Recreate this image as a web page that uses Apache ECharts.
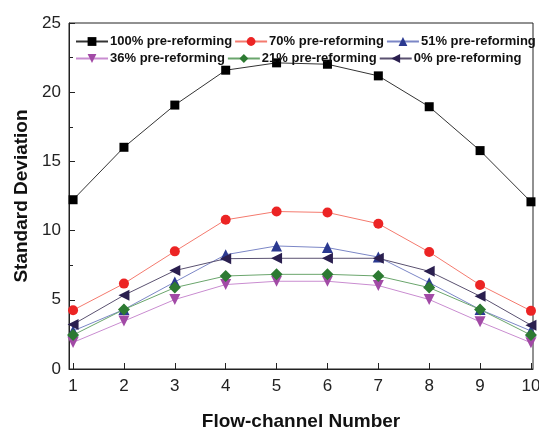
<!DOCTYPE html>
<html><head><meta charset="utf-8">
<script src="https://cdn.jsdelivr.net/npm/echarts@6/dist/echarts.min.js"></script>
<style>html,body{margin:0;padding:0;background:#fff}#c{width:539px;height:428px}</style>
</head><body><div id="c"></div>
<script>
const channels = [1,2,3,4,5,6,7,8,9,10];
const xTicks = [1,2,3,4,5,6,7,8,9,10];
const yTicks = [0,5,10,15,20,25];
const s100 = [12.23,16.02,19.07,21.59,22.12,22.02,21.18,18.95,15.78,12.08];
const s70  = [4.25,6.17,8.5,10.78,11.38,11.31,10.5,8.45,6.07,4.2];
const s51  = [2.75,4.3,6.29,8.26,8.89,8.77,8.09,6.24,4.3,2.75];
const s36  = [1.92,3.46,5.02,6.1,6.34,6.34,6.03,5.02,3.41,1.9];
const s21  = [2.45,4.3,5.88,6.72,6.84,6.84,6.72,5.88,4.3,2.45];
const s0   = [3.22,5.33,7.11,7.97,8.0,8.0,8.0,7.06,5.26,3.17];
const names = ['100% pre-reforming','70% pre-reforming','51% pre-reforming','36% pre-reforming','21% pre-reforming','0% pre-reforming'];

function mk(name, vals, sym, size, mcol, lcol, rot){
  return {
    name: name, type:'line', data: channels.map((c,i)=>[c, vals[i]]),
    symbol: sym, symbolSize: size, symbolRotate: rot||0,
    itemStyle:{color:mcol}, lineStyle:{color:lcol, width:1},
    emphasis:{disabled:true}, animation:false
  };
}
const font = 'Liberation Sans, Arial, sans-serif';
const legendCommon = {
  orient:'horizontal', itemWidth:32, itemHeight:11, itemGap:2, width:480,
  textStyle:{fontFamily:font, fontWeight:'bold', fontSize:13, color:'#111', padding:[0,0,0,-3]},
  selectedMode:false, padding:0
};
const chart = echarts.init(document.getElementById('c'));
chart.setOption({
  animation:false,
  grid:{left:69, right:6, top:23, bottom:59, show:true, borderColor:'#222', borderWidth:1, backgroundColor:'transparent', outerBoundsMode:'none', containLabel:false},
  legend:[
    Object.assign({}, legendCommon, {left:75, top:35, data:names.slice(0,3)}),
    Object.assign({}, legendCommon, {left:75, top:52, data:names.slice(3)})
  ],
  xAxis:{
    type:'value', min:0.92, max:10.04,
    name:'Flow-channel Number', nameLocation:'middle', nameGap:43,
    nameTextStyle:{fontFamily:font, fontWeight:'bold', fontSize:19, color:'#111'},
    axisLine:{show:true, lineStyle:{color:'#222', width:1}},
    axisTick:{show:true, inside:true, length:6, customValues:xTicks, lineStyle:{color:'#222'}},
    axisLabel:{customValues:xTicks, fontFamily:font, fontSize:17, color:'#222', margin:9, hideOverlap:false},
    splitLine:{show:false}
  },
  yAxis:{
    type:'value', min:0, max:25, interval:5,
    name:'Standard Deviation', nameLocation:'middle', nameGap:38,
    nameTextStyle:{fontFamily:font, fontWeight:'bold', fontSize:19, color:'#111'},
    axisLine:{show:true, lineStyle:{color:'#222', width:1}},
    axisTick:{show:true, inside:true, length:6, lineStyle:{color:'#222'}},
    minorTick:{show:true, splitNumber:2, length:4, lineStyle:{color:'#222'}},
    axisLabel:{fontFamily:font, fontSize:17, color:'#222', margin:8,
      formatter:function(v){return yTicks.indexOf(v)>=0? String(v):'';}},
    splitLine:{show:false}
  },
  series:[
    mk(names[0], s100, 'rect', 9, '#000000', '#333333'),
    mk(names[1], s70, 'circle', 10, '#ec2424', '#f47a6e'),
    mk(names[2], s51, 'triangle', 11, '#2b3990', '#7b86c6'),
    mk(names[3], s36, 'triangle', 11, '#a24aa6', '#c98cd0', 180),
    mk(names[4], s21, 'diamond', 12, '#2d7a32', '#6aa56c'),
    mk(names[5], s0, 'triangle', 11, '#2a1f4f', '#5a5170', 90)
  ]
});
</script></body></html>
